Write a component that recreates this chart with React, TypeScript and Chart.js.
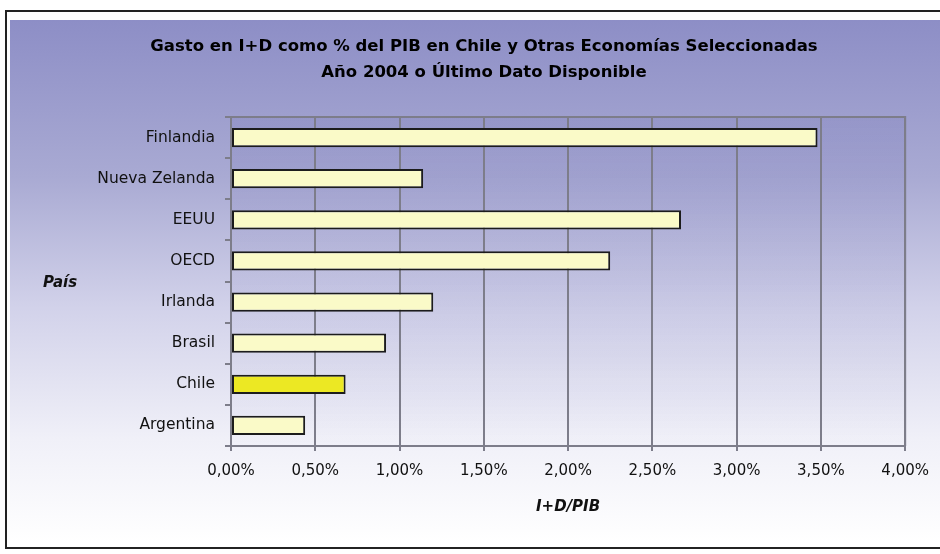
import React, { useEffect, useRef } from "react";
import { Chart, registerables } from "chart.js";
Chart.register(...registerables);

const countries = ["Finlandia", "Nueva Zelanda", "EEUU", "OECD", "Irlanda", "Brasil", "Chile", "Argentina"];
const values = [3.48, 1.14, 2.67, 2.25, 1.2, 0.92, 0.68, 0.44];
const highlightCountry = "Chile";
const titleLines = ["Gasto en I+D como % del PIB en Chile y Otras Economías Seleccionadas", "Año 2004 o Último Dato Disponible"];
const xTitle = "I+D/PIB";
const yTitle = "País";
const xMin = 0;
const xMax = 4;
const xStep = 0.5;

const FONT = "'DejaVu Sans', Arial, sans-serif";

export default function App() {
  const ref = useRef<HTMLCanvasElement | null>(null);

  useEffect(() => {
    const canvas = ref.current;
    if (!canvas) return;

    const plotBg = {
      id: "plotBg",
      beforeDraw(chart: any) {
        const { ctx, chartArea: a } = chart;
        const g = ctx.createLinearGradient(0, a.top, 0, a.bottom);
        g.addColorStop(0, "rgba(110,110,180,0.18)");
        g.addColorStop(1, "rgba(110,110,180,0.0)");
        ctx.save();
        ctx.fillStyle = g;
        ctx.fillRect(a.left, a.top, a.right - a.left, a.bottom - a.top);
        ctx.restore();
      },
      afterDraw(chart: any) {
        const { ctx, chartArea: a } = chart;
        ctx.save();
        ctx.strokeStyle = "#7d7d8a";
        ctx.lineWidth = 2;
        ctx.beginPath();
        ctx.moveTo(a.left, a.top);
        ctx.lineTo(a.right, a.top);
        ctx.lineTo(a.right, a.bottom);
        ctx.stroke();
        ctx.fillStyle = "#111";
        ctx.font = "italic bold 15px " + FONT;
        ctx.textAlign = "center";
        ctx.textBaseline = "middle";
        ctx.fillText(yTitle, 60, 283);
        ctx.restore();
      },
    };

    const chart = new Chart(canvas, {
      type: "bar",
      data: {
        labels: countries,
        datasets: [
          {
            data: values,
            backgroundColor: countries.map((c) => (c === highlightCountry ? "#ece823" : "#fafac8")),
            borderColor: "#1c1c1c",
            borderWidth: 2,
            borderSkipped: false,
            categoryPercentage: 1,
            barPercentage: 0.47,
          },
        ],
      },
      options: {
        indexAxis: "y",
        animation: false,
        responsive: false,
        maintainAspectRatio: false,
        layout: { padding: { left: 59, right: 31, top: 0, bottom: 33 } },
        plugins: {
          legend: { display: false },
          tooltip: { enabled: false },
          title: {
            display: true,
            text: titleLines,
            color: "#000",
            font: { family: FONT, size: 16.5, weight: "bold", lineHeight: 26 / 16.5 },
            padding: { top: 34, bottom: 31 },
          },
        },
        scales: {
          x: {
            type: "linear",
            min: xMin,
            max: xMax,
            afterFit: (s: any) => {
              s.height = 75;
            },
            ticks: {
              stepSize: xStep,
              color: "#111",
              font: { family: FONT, size: 15 },
              padding: 11,
              callback: (v: any) => Number(v).toFixed(2).replace(".", ",") + "%",
            },
            grid: { color: "#7d7d8a", lineWidth: 2, tickLength: 5 },
            border: { color: "#7d7d8a", width: 2 },
            title: {
              display: true,
              text: xTitle,
              color: "#111",
              font: { family: FONT, size: 15, weight: "bold", style: "italic", lineHeight: 1.2 },
              padding: { top: 0, bottom: 5 },
            },
          },
          y: {
            afterFit: (s: any) => {
              s.width = 172;
            },
            ticks: {
              color: "#111",
              font: { family: FONT, size: 15.5 },
              padding: 10,
            },
            grid: { drawOnChartArea: false, color: "#7d7d8a", lineWidth: 2, tickLength: 6 },
            border: { color: "#7d7d8a", width: 2 },
          },
        },
      },
      plugins: [plotBg],
    });
    return () => chart.destroy();
  }, []);

  return (
    <div style={{ position: "fixed", left: 0, top: 0, width: 940, height: 554, background: "#fff", overflow: "hidden" }}>
      <div
        style={{
          position: "absolute",
          left: 5,
          top: 10,
          width: 960,
          height: 539,
          border: "2px solid #222",
          boxSizing: "border-box",
        }}
      />
      <div
        style={{
          position: "absolute",
          left: 10,
          top: 20,
          width: 940,
          height: 524,
          background: "linear-gradient(to bottom, #8d8ec6 0%, #a9aad3 30%, #d2d2ea 55%, #f0f0f8 80%, #ffffff 100%)",
        }}
      />
      <canvas ref={ref} width={940} height={554} style={{ position: "absolute", left: 0, top: 0 }} />
    </div>
  );
}
